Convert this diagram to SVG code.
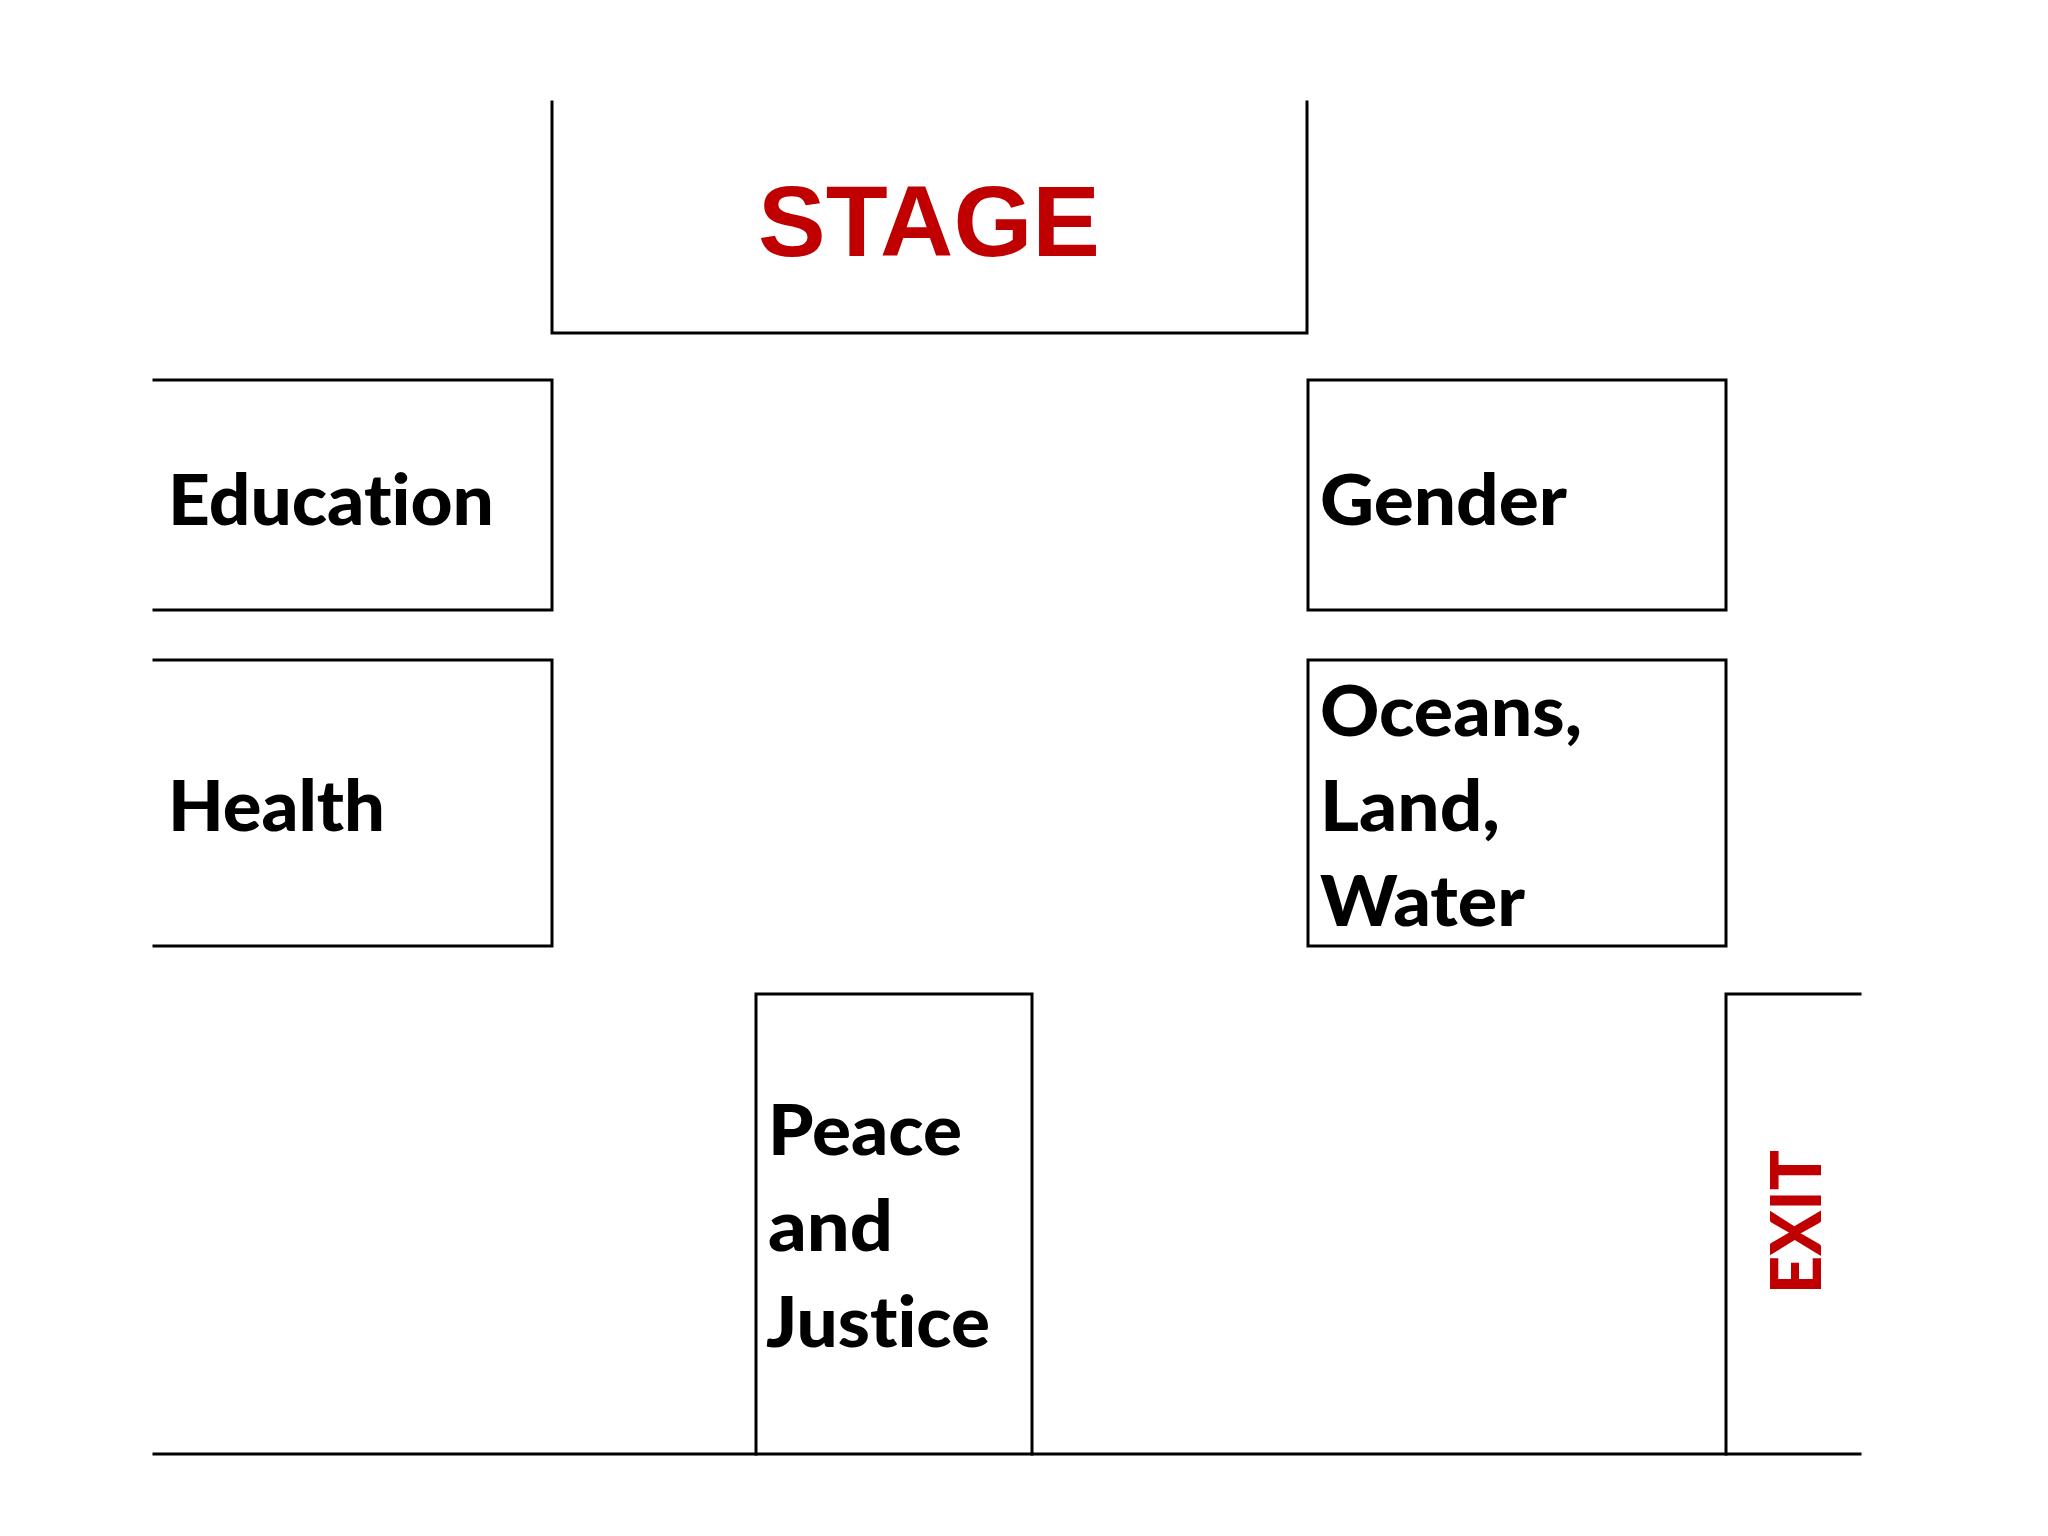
<svg xmlns="http://www.w3.org/2000/svg" width="2048" height="1536" viewBox="0 0 2048 1536">
<style>
.wall{fill:none;stroke:#000;stroke-width:3;stroke-linecap:square}
.lbl{font-family:Lato,"Open Sans","Liberation Sans",sans-serif;font-weight:900;font-size:71px;fill:#000;font-variant-ligatures:none;font-feature-settings:"liga" 0}
.red{fill:#C00000}
.stage{font-family:"Liberation Sans",Arial,sans-serif;font-weight:700;font-size:100px}
.exit{font-family:Lato,"Open Sans","Liberation Sans",sans-serif;font-weight:900;font-size:71px}
</style>
<rect width="2048" height="1536" fill="#fff"/>
<g id="stage">
<path class="wall" d="M552,102 V333 H1307 V102"/>
<text class="stage red" x="929" y="256" text-anchor="middle" textLength="342" lengthAdjust="spacingAndGlyphs">STAGE</text>
</g>
<g id="education">
<path class="wall" d="M154,380 H552 V610 H154"/>
<text class="lbl" x="168" y="525" textLength="326" lengthAdjust="spacingAndGlyphs">Education</text>
</g>
<g id="health">
<path class="wall" d="M154,660 H552 V946 H154"/>
<text class="lbl" x="168" y="831" textLength="217" lengthAdjust="spacingAndGlyphs">Health</text>
</g>
<g id="gender">
<rect class="wall" x="1308" y="380" width="418" height="230"/>
<text class="lbl" x="1320" y="525" textLength="247" lengthAdjust="spacingAndGlyphs">Gender</text>
</g>
<g id="oceans">
<rect class="wall" x="1308" y="660" width="418" height="286"/>
<text class="lbl" x="1320" y="736" textLength="262" lengthAdjust="spacingAndGlyphs">Oceans,</text>
<text class="lbl" x="1320" y="831" textLength="180" lengthAdjust="spacingAndGlyphs">Land,</text>
<text class="lbl" x="1320" y="926" textLength="205" lengthAdjust="spacingAndGlyphs">Water</text>
</g>
<g id="peace">
<path class="wall" d="M756,1454 V994 H1032 V1454"/>
<text class="lbl" x="768" y="1155" textLength="194" lengthAdjust="spacingAndGlyphs">Peace</text>
<text class="lbl" x="768" y="1251" textLength="125" lengthAdjust="spacingAndGlyphs">and</text>
<text class="lbl" x="766" y="1347" textLength="224" lengthAdjust="spacingAndGlyphs">Justice</text>
</g>
<g id="exit">
<path class="wall" d="M1726,1454 V994 H1860"/>
<text class="exit red" transform="translate(1821,1222) rotate(-90)" x="0" y="0" text-anchor="middle" textLength="144" lengthAdjust="spacingAndGlyphs">EXIT</text>
</g>
<g id="connectors">
<path class="wall" d="M154,1454 H1860"/>
</g>
</svg>
